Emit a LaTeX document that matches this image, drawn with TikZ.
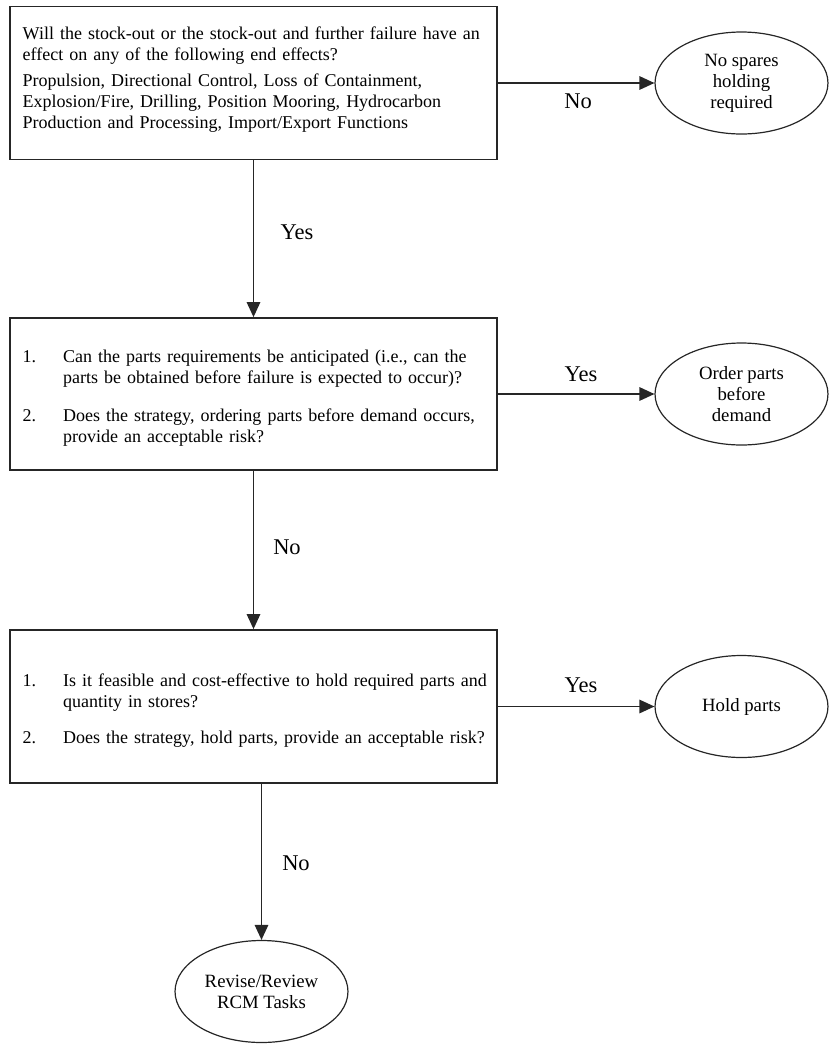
\documentclass[tikz,border=0pt]{standalone}
\usepackage{fontspec}
\setmainfont{Liberation Serif}
\usetikzlibrary{arrows.meta,shapes.geometric}

\begin{document}
\begin{tikzpicture}[
            x=0.6667pt, y=-0.6667pt,
            question/.style={draw=black!85, line width=1.2pt, rectangle,
                minimum width=324.7pt, text width=307.7pt, inner xsep=8.5pt,
                minimum height=102pt, align=left,
                font=\fontsize{12}{14}\selectfont},
            outcome/.style={draw=black!85, line width=0.8pt, ellipse,
                minimum width=115.3pt, minimum height=68pt, inner sep=0pt,
                align=center, font=\fontsize{12.5}{14}\selectfont},
            answer/.style={font=\fontsize{15}{17}\selectfont},
            flow/.style={draw=black!85, line width=1pt,
                -{Triangle[length=10pt,width=9pt]}}
        ]

        \useasboundingbox (0,0) rectangle (831,1044);

        % questions
        \node[question] (effects) at (253.5,83) {Will the stock-out or
            the stock-out and further failure have an\newline effect on any
            of the following end effects?\par\vspace{3.3pt}Propulsion,
            Directional Control, Loss of Containment,\newline
            Explosion/Fire, Drilling, Position Mooring,
            Hydrocarbon\newline Production and Processing, Import/Export
            Functions\rule[-6.6pt]{0pt}{0pt}};
        \node[question, minimum height=101.3pt] (anticipate) at (253.5,394)
            {\begin{tabular}{@{}p{27pt}@{}l@{}}
            \rule{0pt}{15.5pt}1. & Can the parts requirements be anticipated (i.e., can the\\
               & parts be obtained before failure is expected to occur)?\\[11.5pt]
            2. & Does the strategy, ordering parts before demand occurs,\\
               & provide an acceptable risk?
            \end{tabular}};
        \node[question] (feasible) at (253.5,706.5)
            {\begin{tabular}{@{}p{27pt}@{}l@{}}
            \rule{0pt}{15.6pt}1. & Is it feasible and cost-effective to hold required parts and\\
               & quantity in stores?\\[10.5pt]
            2. & Does the strategy, hold parts, provide an acceptable risk?
            \end{tabular}};

        % outcomes
        \node[outcome] (nospares) at (741.5,83) {No spares\\holding\\required};
        \node[outcome] (orderparts) at (741.5,394) {Order parts\\before\\demand};
        \node[outcome] (holdparts) at (741.5,706.5) {Hold parts};
        \node[outcome] (review) at (261.5,991.5) {Revise/Review\\RCM Tasks};

        % answers
        \node[answer] (no1) at (578,101.5) {No};
        \node[answer] (yes1) at (297,232) {Yes};
        \node[answer] (yes2) at (581,374) {Yes};
        \node[answer] (no2) at (287,547) {No};
        \node[answer] (yes3) at (581,685) {Yes};
        \node[answer] (no3) at (296,863) {No};

        \draw[flow] (effects) -- (nospares);
        \draw[flow] (effects) -- (anticipate);
        \draw[flow] (anticipate) -- (orderparts);
        \draw[flow] (anticipate) -- (feasible);
        \draw[flow] (feasible) -- (holdparts);
        \draw[flow] (feasible.south -| review.north) -- (review);
    \end{tikzpicture}
\end{document}
